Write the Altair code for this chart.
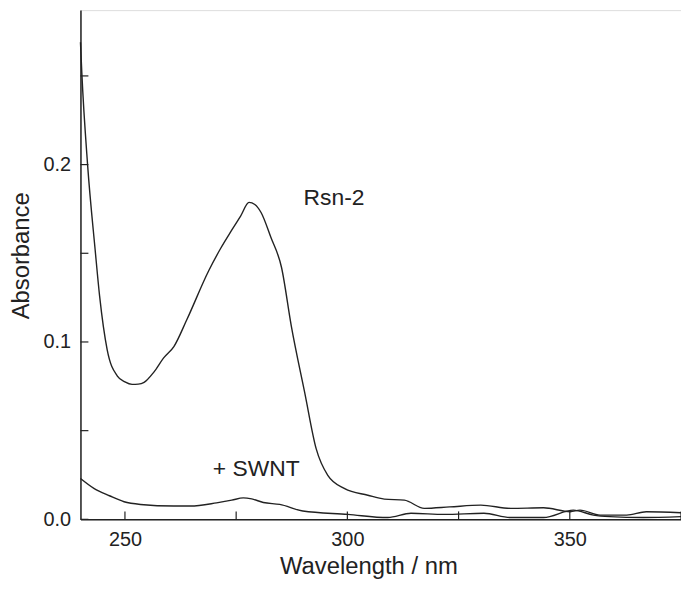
import altair as alt
import pandas as pd

# Rsn-2 spectrum (wavelength nm, absorbance)
rsn_wl = [240.0, 240.3, 241.6, 243.3, 244.3, 246.0, 248.3, 250.0, 251.6, 253.0, 254.3, 256.5, 258.7, 261.0, 263.9,
          268.8, 271.5, 274.0, 276.0, 277.9, 279.2, 280.6, 282.8, 285.2, 287.4, 290.4, 293.0, 295.6,
          299.4, 304.6, 308.3, 312.8, 317.3, 323.0, 330.0, 336.7, 344.1, 350.1, 352.3, 356.8, 362.8,
          367.2, 375.0]
rsn_abs = [0.269, 0.252, 0.200, 0.152, 0.126, 0.0957, 0.0808, 0.0775, 0.0761, 0.0762, 0.0772, 0.083, 0.091, 0.0974, 0.1125,
           0.140, 0.1527, 0.163, 0.171, 0.1787, 0.1775, 0.173, 0.159, 0.142, 0.109, 0.0716, 0.0397, 0.0248,
           0.0173, 0.0136, 0.0114, 0.0108, 0.0062, 0.0070, 0.0080, 0.0062, 0.0065, 0.0043, 0.0052, 0.0024, 0.0024,
           0.0043, 0.0037]

# + SWNT spectrum
swnt_wl = [240.0, 243.1, 246.5, 249.8, 253.5, 261.0, 264.7, 270.6, 274.0, 276.6, 278.5, 281.1, 284.8, 290.0,
           300.1, 309.1, 314.3, 321.8, 330.7, 336.6, 344.1, 350.8, 355.3, 359.0, 366.5, 375.0]
swnt_abs = [0.023, 0.0173, 0.0133, 0.0099, 0.0084, 0.0075, 0.0075, 0.0093, 0.0108, 0.0121, 0.0115, 0.0095, 0.0084, 0.0047,
            0.0028, 0.0010, 0.0034, 0.0028, 0.0034, 0.0010, 0.0010, 0.0052, 0.0024, 0.0015, 0.0010, 0.0015]

x_ticks = [250, 275, 300, 325, 350, 375]
y_ticks = [0.0, 0.05, 0.1, 0.15, 0.2, 0.25]
label_text = ["Rsn-2", "+ SWNT"]
label_wl = [297.0, 279.5]
label_abs = [0.181, 0.0285]

FONT = "Liberation Sans"
INK = "#222222"
W, H = 605, 513
XDOM = [240, 375]
YDOM = [0, 0.2871]

df = pd.concat([
    pd.DataFrame({"wl": rsn_wl, "abs": rsn_abs, "series": "Rsn-2"}),
    pd.DataFrame({"wl": swnt_wl, "abs": swnt_abs, "series": "+ SWNT"}),
])

xs = alt.Scale(domain=XDOM, nice=False, zero=False)
ys = alt.Scale(domain=YDOM, nice=False, zero=False)

xaxis = alt.Axis(values=[250, 300, 350], format="d", tickSize=0, labelPadding=10,
                 labelFont=FONT, labelFontSize=20, labelColor=INK, labelFontWeight="normal",
                 title="Wavelength / nm", titleFont=FONT, titleFontSize=24, titleFontWeight="normal",
                 titleColor=INK, titlePadding=6, titleX=290, domainColor=INK, domainWidth=1.5, grid=False)
yaxis = alt.Axis(values=[0.0, 0.1, 0.2], format=".1f", tickSize=0, labelPadding=10,
                 labelFont=FONT, labelFontSize=20, labelColor=INK,
                 title="Absorbance", titleFont=FONT, titleFontSize=24, titleFontWeight="normal",
                 titleColor=INK, titlePadding=10, titleY=247, domainColor=INK, domainWidth=1.5, grid=False)

lines = alt.Chart(df).mark_line(color=INK, strokeWidth=1.4, interpolate="monotone").encode(
    x=alt.X("wl:Q", scale=xs, axis=xaxis),
    y=alt.Y("abs:Q", scale=ys, axis=yaxis),
    detail="series:N",
)

xt = alt.Chart(pd.DataFrame({"wl": x_ticks})).mark_rule(color=INK, strokeWidth=1.2).encode(
    x=alt.X("wl:Q", scale=xs), y=alt.value(H), y2=alt.value(H - 8)
)
yt = alt.Chart(pd.DataFrame({"abs": y_ticks})).mark_rule(color=INK, strokeWidth=1.2).encode(
    y=alt.Y("abs:Q", scale=ys), x=alt.value(0), x2=alt.value(8)
)

labels = alt.Chart(pd.DataFrame({"t": label_text, "wl": label_wl, "abs": label_abs})).mark_text(
    font=FONT, fontSize=23, color=INK, align="center", baseline="middle"
).encode(x=alt.X("wl:Q", scale=xs), y=alt.Y("abs:Q", scale=ys), text="t:N")

chart = alt.layer(lines, xt, yt, labels).properties(
    width=W, height=H,
    autosize=alt.AutoSizeParams(type="none"),
    padding={"left": 73, "top": 0, "right": 0, "bottom": 61},
).configure_view(stroke="#444444", strokeWidth=1.5).configure(background="white")

chart.save("out.html", embed_options={"renderer": "svg", "actions": False})
